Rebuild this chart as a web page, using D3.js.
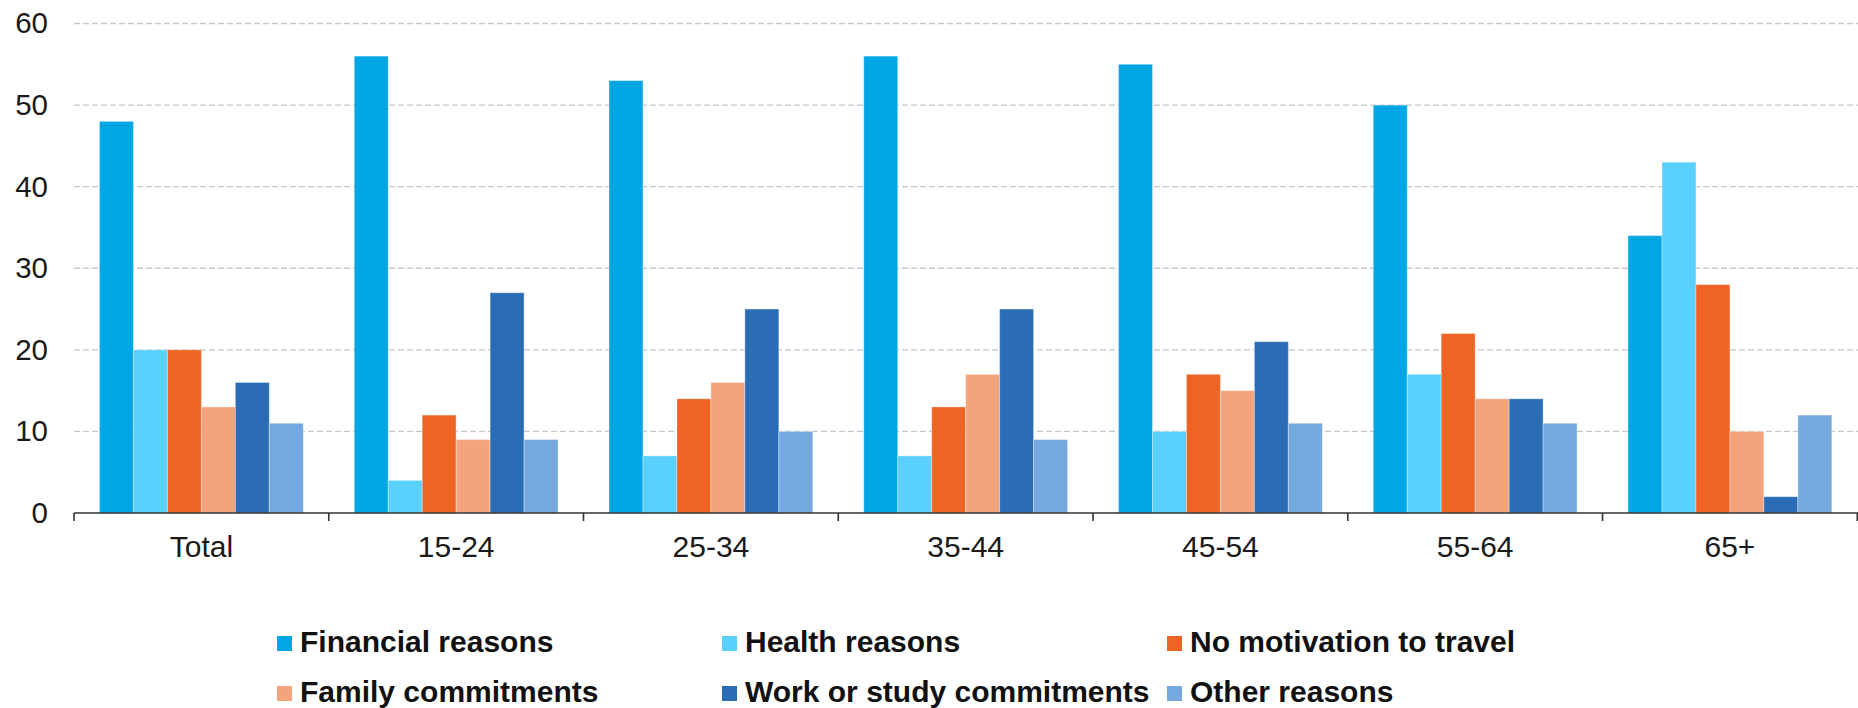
<!DOCTYPE html>
<html>
<head>
<meta charset="utf-8">
<script src="https://cdn.jsdelivr.net/npm/d3@7"></script>
<style>
  html, body { margin: 0; padding: 0; background: #fff; }
  svg { display: block; }
  text { font-family: "Liberation Sans", Arial, sans-serif; }
</style>
</head>
<body>
<svg id="chart" width="1858" height="708"></svg>
<script>
// Age groups along the x axis
const categories = ["Total", "15-24", "25-34", "35-44", "45-54", "55-64", "65+"];

// Reasons for not travelling (%), one array per reason, in category order
const financial  = [48, 56, 53, 56, 55, 50, 34];
const health     = [20,  4,  7,  7, 10, 17, 43];
const motivation = [20, 12, 14, 13, 17, 22, 28];
const family     = [13,  9, 16, 17, 15, 14, 10];
const work       = [16, 27, 25, 25, 21, 14,  2];
const other      = [11,  9, 10,  9, 11, 11, 12];

const seriesNames = ["Financial reasons", "Health reasons", "No motivation to travel",
                     "Family commitments", "Work or study commitments", "Other reasons"];
const seriesValues = [financial, health, motivation, family, work, other];
const seriesColors = ["#00a6e4", "#5ad0ff", "#ee6424", "#f4a47c", "#2a6db5", "#74a8de"];

const yTicks = [0, 10, 20, 30, 40, 50, 60];

const svg = d3.select("#chart");

const x0 = d3.scaleBand()
  .domain(categories)
  .range([74, 1857.3])
  .paddingInner(0.2)
  .paddingOuter(0.1);

const x1 = d3.scaleBand()
  .domain(seriesNames)
  .range([0, x0.bandwidth()])
  .padding(0);

const y = d3.scaleLinear().domain([0, 60]).range([513, 23.5]);

// Dashed horizontal gridlines
svg.append("g")
  .selectAll("line")
  .data(yTicks.filter(t => t > 0))
  .join("line")
  .attr("x1", 74).attr("x2", 1858)
  .attr("y1", d => y(d)).attr("y2", d => y(d))
  .attr("stroke", "#c6c6c6")
  .attr("stroke-width", 1.3)
  .attr("stroke-dasharray", "6,3");

// Y axis labels
const yAxis = svg.append("g")
  .attr("transform", "translate(74,0)")
  .call(d3.axisLeft(y).tickValues(yTicks).tickSize(0).tickPadding(26).tickFormat(d3.format("d")));
yAxis.select(".domain").remove();
yAxis.selectAll("text")
  .attr("font-size", 29.5)
  .attr("fill", "#1a1a1a")
  .attr("font-family", "Liberation Sans, Arial, sans-serif");

// Grouped bars
const rows = categories.map((c, i) => ({
  category: c,
  values: seriesNames.map((s, j) => ({ series: s, value: seriesValues[j][i], color: seriesColors[j] }))
}));

svg.append("g")
  .selectAll("g")
  .data(rows)
  .join("g")
  .attr("transform", d => `translate(${x0(d.category)},0)`)
  .selectAll("rect")
  .data(d => d.values)
  .join("rect")
  .attr("x", d => x1(d.series))
  .attr("y", d => y(d.value))
  .attr("width", x1.bandwidth())
  .attr("height", d => y(0) - y(d.value))
  .attr("fill", d => d.color)
  .attr("stroke", "rgba(255,255,255,0.35)")
  .attr("stroke-width", 1);

// X axis: baseline, boundary ticks and category labels
const step = x0.step();
svg.append("line")
  .attr("x1", 74).attr("x2", 1858)
  .attr("y1", y(0)).attr("y2", y(0))
  .attr("stroke", "#333")
  .attr("stroke-width", 1.6);

svg.append("g")
  .selectAll("line")
  .data(d3.range(categories.length + 1))
  .join("line")
  .attr("x1", i => 74 + i * step).attr("x2", i => 74 + i * step)
  .attr("y1", y(0)).attr("y2", y(0) + 8)
  .attr("stroke", "#333")
  .attr("stroke-width", 1.6);

const xAxis = svg.append("g")
  .attr("transform", `translate(0,${y(0)})`)
  .call(d3.axisBottom(x0).tickSize(0).tickPadding(23));
xAxis.select(".domain").remove();
xAxis.selectAll("text")
  .attr("font-size", 30)
  .attr("fill", "#1a1a1a")
  .attr("font-family", "Liberation Sans, Arial, sans-serif");

// Legend: three columns, two rows
const legendCols = [277, 722, 1167];
const legendRows = [636, 686];
const legend = svg.append("g")
  .selectAll("g")
  .data(seriesNames)
  .join("g")
  .attr("transform", (d, i) => `translate(${legendCols[i % 3]},${legendRows[Math.floor(i / 3)]})`);

legend.append("rect")
  .attr("width", 15).attr("height", 15)
  .attr("fill", (d, i) => seriesColors[i]);

legend.append("text")
  .attr("x", 23)
  .attr("y", 16)
  .attr("font-size", 30)
  .attr("font-weight", "bold")
  .attr("fill", "#111")
  .text(d => d);
</script>
</body>
</html>
